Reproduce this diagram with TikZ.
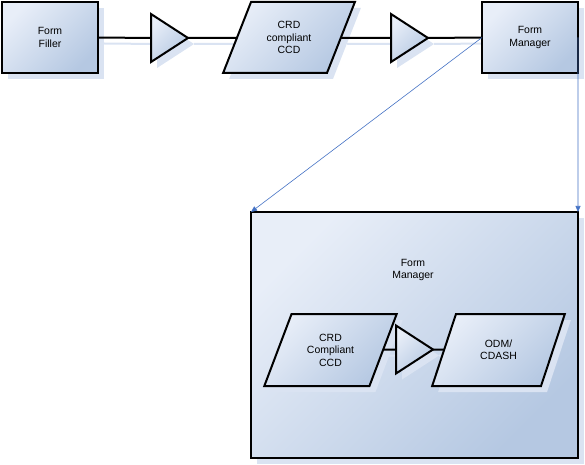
\documentclass[tikz,border=0pt]{standalone}
\usepackage{fontspec}
\setmainfont{Liberation Sans}
\usepackage{tikz}
\usetikzlibrary{shapes.geometric,shadows,arrows.meta,backgrounds}
\usepackage{xcolor}
\definecolor{formLight}{RGB}{232,238,248}
\definecolor{formDark}{RGB}{181,200,226}
\definecolor{formShadow}{RGB}{218,227,242}
\definecolor{formLink}{RGB}{68,114,196}
\definecolor{formEdge}{RGB}{0,0,0}
\pgfdeclarelayer{lineshade}
\pgfsetlayers{background,lineshade,main}

\tikzset{
  formfill/.style={top color=formLight, bottom color=formDark, shading angle=45,
    draw=formEdge, line width=2bp,
    general shadow={shadow xshift=6bp, shadow yshift=-6bp, fill=formShadow}},
  procbox/.style={formfill, rectangle, inner sep=0pt, outer sep=0pt, align=center,
    font=\fontsize{10.5}{12.5}\selectfont},
  databox/.style={formfill, trapezium, trapezium left angle=63, trapezium right angle=117,
    trapezium stretches=true, inner sep=0pt, outer sep=0pt, align=center,
    font=\fontsize{10.5}{12.5}\selectfont},
  flowtri/.style={formfill, isosceles triangle, isosceles triangle stretches,
    inner sep=0pt, outer sep=0pt, minimum width=48bp, minimum height=37bp, anchor=apex},
  flowline/.style={draw=formEdge, line width=2bp},
  flowshade/.style={draw=formShadow, line width=2bp, transform canvas={shift={(6bp,-6bp)}}},
  link/.style={draw=formLink, line width=0.6bp, -{Triangle[width=5bp,length=6bp]}}
}

\begin{document}
\begin{tikzpicture}[x=1bp, y=-1bp]
  \useasboundingbox (0,0) rectangle (585,465);

  % top row
  \node[procbox, minimum width=96bp, minimum height=71bp] (filler) at (50,37.5) {Form\\Filler};
  \node[flowtri] (tri1) at (188,38) {};
  \node[databox, minimum width=132bp, minimum height=71bp] (ccd1) at (289,37.5) {CRD\\compliant\\CCD};
  \node[flowtri] (tri2) at (428,38) {};
  \node[procbox, minimum width=96bp, minimum height=71bp] (mgr) at (530,37.5) {Form\\Manager};

  % big form manager
  \begin{pgfonlayer}{background}
    \node[procbox, minimum width=327bp, minimum height=246bp] (fmbig) at (414.5,335) {};
  \end{pgfonlayer}
  \node[font=\fontsize{10.5}{12.5}\selectfont, align=center] (fmtext) at (413,270) {Form\\Manager};
  \node[databox, minimum width=133bp, minimum height=72bp] (ccd2) at (330.5,350) {CRD\\Compliant\\CCD};
  \node[flowtri] (tri3) at (433,349.5) {};
  \node[databox, minimum width=133bp, minimum height=72bp] (odm) at (498.5,350) {ODM/\\CDASH};

  % connectors
  \foreach \src/\dst in {filler.east/tri1.lower side, tri1.apex/ccd1, ccd1/tri2.lower side,
      tri2.apex/mgr.west, ccd2/tri3.lower side, tri3.apex/odm} {
    \begin{pgfonlayer}{lineshade}
      \draw[flowshade] (\src) -- (\dst);
    \end{pgfonlayer}
    \draw[flowline] (\src) -- (\dst);
  }

  \draw[link] (mgr.west) -- (fmbig.north west);
  \draw[link] (mgr.east) -- (fmbig.north east);
\end{tikzpicture}
\end{document}
